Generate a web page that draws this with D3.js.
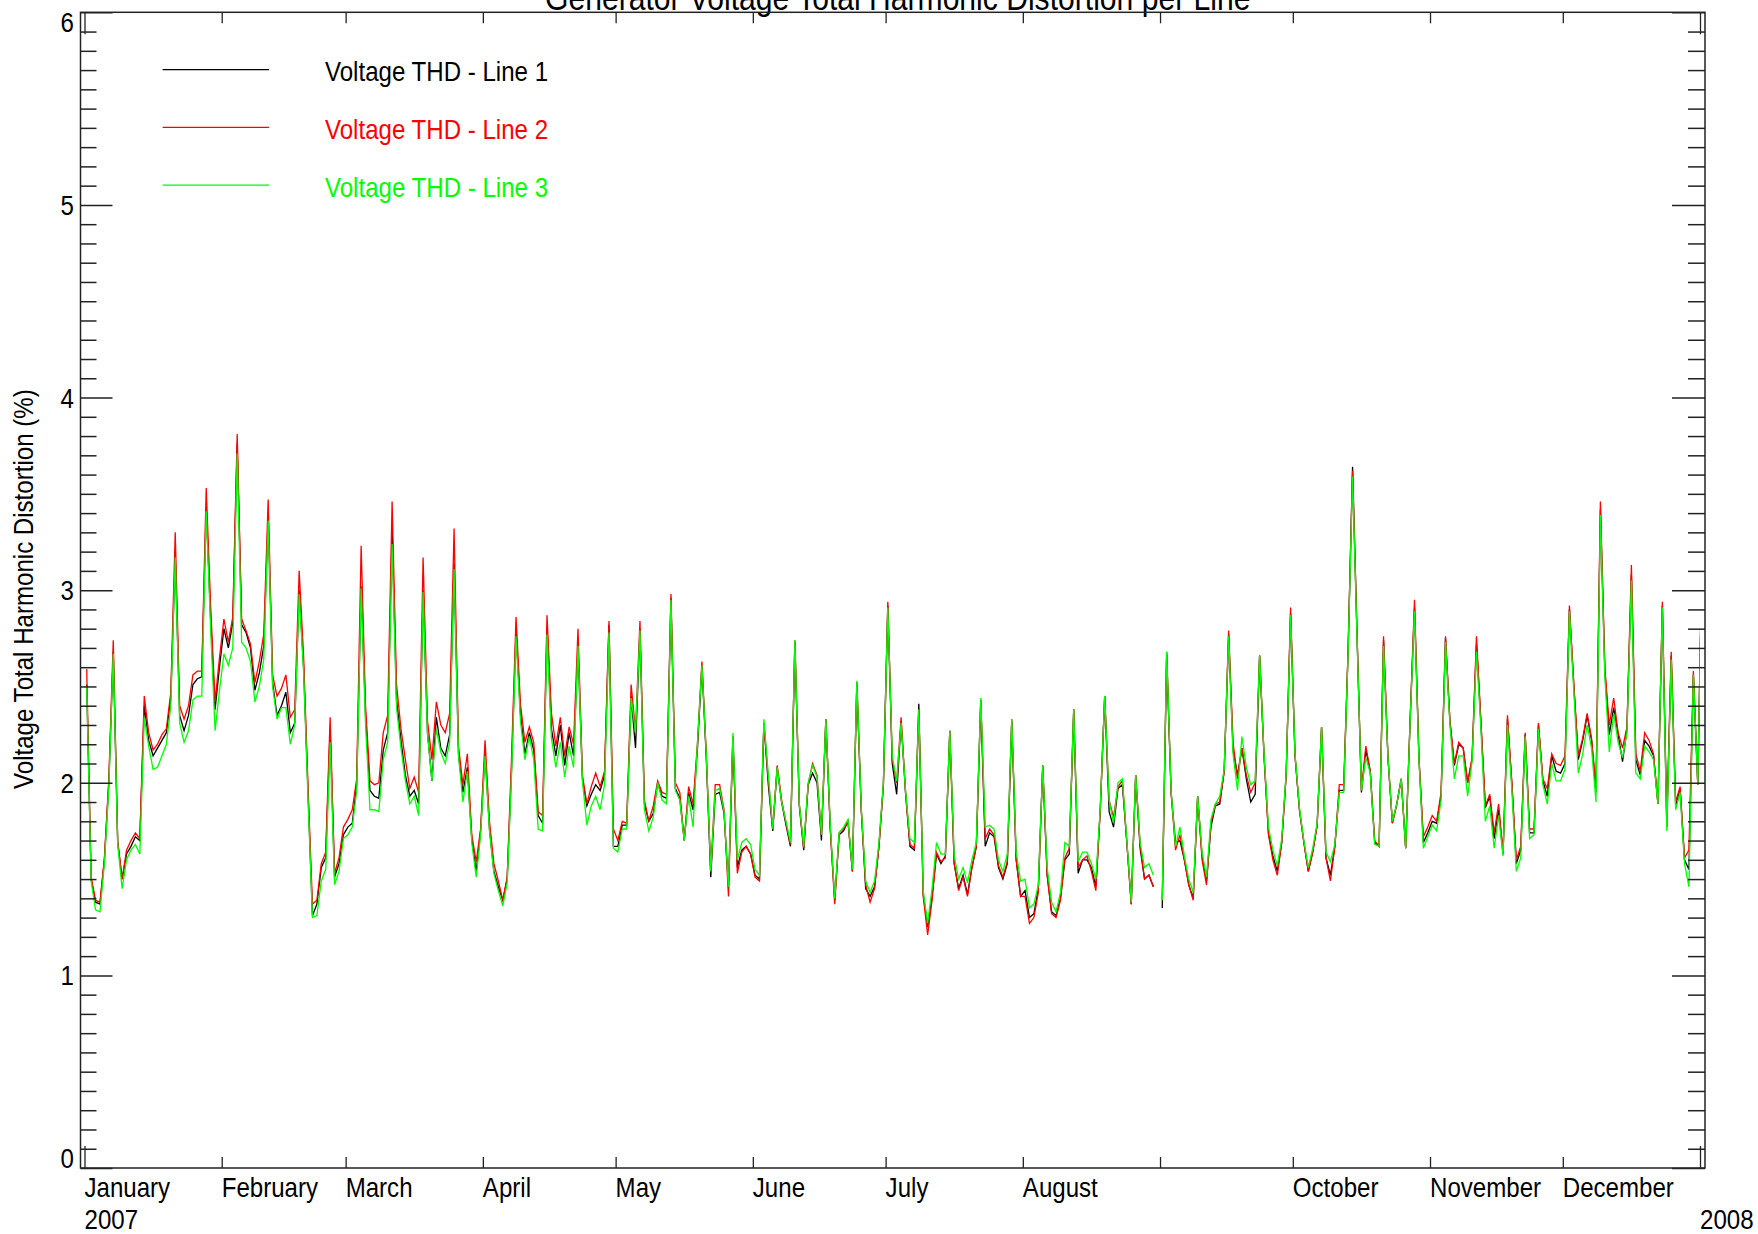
<!DOCTYPE html>
<html>
<head>
<meta charset="utf-8">
<script src="https://cdn.jsdelivr.net/npm/d3@7/dist/d3.min.js"></script>
<style>
  body { margin: 0; background: #fff; }
  svg { display: block; background: #fff; }
  text { font-family: "Liberation Sans", Arial, sans-serif; }
</style>
</head>
<body>
<svg></svg>
<script>
// daily voltage THD (%) from 1 Jan 2007, one value per day (null = no data)
var thd1 = [
2.51,1.50,1.38,1.37,1.60,2.00,2.68,1.69,1.50,1.63,
1.67,1.72,1.70,2.40,2.22,2.14,2.18,2.22,2.26,2.44,
3.18,2.35,2.27,2.35,2.51,2.54,2.55,3.43,2.85,2.38,
2.60,2.80,2.70,2.83,3.76,2.82,2.78,2.70,2.48,2.57,
2.71,3.38,2.52,2.35,2.40,2.47,2.26,2.31,3.00,2.60,
1.95,1.31,1.37,1.56,1.61,2.28,1.51,1.58,1.73,1.77,
1.79,1.99,3.02,2.35,1.96,1.93,1.92,2.17,2.26,3.31,
2.43,2.22,2.04,1.93,1.96,1.89,3.00,2.26,2.01,2.34,
2.18,2.14,2.25,3.14,2.15,1.95,2.08,1.71,1.54,1.75,
2.16,1.76,1.54,1.46,1.39,1.50,2.08,2.79,2.36,2.15,
2.26,2.17,1.83,1.79,2.81,2.28,2.14,2.30,2.09,2.26,
2.14,2.71,2.02,1.88,1.94,1.99,1.96,2.04,2.82,1.67,
1.67,1.78,1.78,2.45,2.18,2.80,1.89,1.80,1.84,2.00,
1.93,1.92,2.96,1.97,1.92,1.70,1.95,1.86,2.18,2.61,
2.12,1.51,1.94,1.95,1.84,1.46,2.24,1.56,1.65,1.67,
1.63,1.52,1.50,2.31,1.99,1.75,2.08,1.90,1.78,1.67,
2.73,1.88,1.65,1.99,2.05,2.00,1.70,2.33,1.76,1.39,
1.73,1.75,1.80,1.54,2.52,1.86,1.45,1.41,1.46,1.67,
1.99,2.92,2.10,1.94,2.32,1.95,1.67,1.65,2.41,1.42,
1.25,1.41,1.63,1.58,1.62,2.27,1.58,1.45,1.52,1.42,
1.56,1.67,2.43,1.67,1.74,1.72,1.56,1.50,1.58,2.32,
1.60,1.41,1.44,1.30,1.32,1.45,2.09,1.52,1.33,1.31,
1.40,1.60,1.63,2.38,1.53,1.60,1.60,1.56,1.46,1.86,
2.45,1.85,1.77,1.97,1.99,1.69,1.37,2.04,1.66,1.50,
1.52,1.46,null,1.35,2.67,1.95,1.69,1.70,1.60,1.47,
1.40,1.93,1.62,1.49,1.77,1.88,1.89,2.06,2.77,2.17,
2.04,2.18,2.02,1.90,1.94,2.66,2.14,1.74,1.62,1.54,
1.69,2.04,2.88,2.14,1.86,1.69,1.54,1.64,1.78,2.29,
1.61,1.52,1.67,1.96,1.96,2.69,3.64,2.78,1.95,2.17,
2.06,1.69,1.67,2.74,2.13,1.79,1.89,2.02,1.66,2.32,
2.91,2.13,1.69,1.74,1.80,1.79,1.93,2.75,2.32,2.09,
2.20,2.18,2.00,2.12,2.72,2.31,1.87,1.93,1.71,1.86,
1.63,2.33,1.99,1.58,1.65,2.25,1.74,1.74,2.30,2.01,
1.93,2.14,2.06,2.05,2.10,2.90,2.50,2.12,2.22,2.35,
2.22,1.95,3.42,2.58,2.25,2.39,2.25,2.11,2.28,3.08,
2.12,2.04,2.22,2.19,2.14,1.89,2.92,1.77,2.66,1.88,
1.97,1.60,1.55,2.56,1.99,3.25
];
var thd2 = [
2.59,1.51,1.39,1.38,1.61,2.02,2.74,1.70,1.50,1.65,
1.70,1.74,1.71,2.45,2.26,2.17,2.20,2.25,2.28,2.47,
3.30,2.40,2.33,2.40,2.56,2.58,2.58,3.53,2.92,2.42,
2.65,2.85,2.73,2.86,3.81,2.85,2.79,2.72,2.52,2.63,
2.77,3.47,2.56,2.45,2.49,2.56,2.34,2.38,3.10,2.66,
1.98,1.37,1.39,1.58,1.64,2.34,1.53,1.61,1.77,1.81,
1.86,2.02,3.23,2.40,2.01,1.99,2.00,2.26,2.35,3.46,
2.51,2.28,2.12,1.97,2.03,1.95,3.17,2.32,2.12,2.42,
2.30,2.26,2.36,3.32,2.19,1.99,2.15,1.73,1.59,1.76,
2.22,1.80,1.58,1.49,1.39,1.51,2.14,2.86,2.41,2.21,
2.29,2.21,1.85,1.83,2.87,2.36,2.19,2.34,2.14,2.29,
2.20,2.80,2.04,1.89,1.98,2.05,1.98,2.06,2.84,1.76,
1.70,1.80,1.79,2.51,2.27,2.84,1.91,1.80,1.88,2.01,
1.95,1.94,2.98,2.00,1.95,1.70,1.98,1.89,2.21,2.63,
2.14,1.54,1.99,1.99,1.86,1.41,2.24,1.53,1.64,1.67,
1.63,1.51,1.49,2.31,2.02,1.76,2.09,1.91,1.79,1.68,
2.74,1.89,1.66,1.99,2.10,2.04,1.73,2.33,1.76,1.37,
1.74,1.76,1.80,1.54,2.52,1.86,1.47,1.38,1.45,1.67,
1.99,2.94,2.12,2.00,2.34,1.95,1.68,1.66,2.38,1.41,
1.21,1.39,1.64,1.59,1.61,2.27,1.58,1.44,1.51,1.41,
1.56,1.67,2.43,1.71,1.76,1.73,1.57,1.51,1.59,2.33,
1.60,1.41,1.41,1.27,1.30,1.43,2.09,1.52,1.32,1.30,
1.39,1.61,1.66,2.38,1.56,1.60,1.62,1.54,1.44,1.86,
2.45,1.91,1.82,1.98,2.01,1.69,1.37,2.04,1.68,1.50,
1.52,1.46,null,1.39,2.68,1.95,1.65,1.73,1.60,1.47,
1.39,1.93,1.60,1.47,1.79,1.89,1.90,2.06,2.79,2.21,
2.02,2.18,2.04,1.95,2.00,2.66,2.14,1.73,1.60,1.52,
1.69,2.04,2.91,2.14,1.86,1.69,1.54,1.64,1.78,2.29,
1.61,1.49,1.67,1.99,1.99,2.69,3.62,2.78,1.96,2.19,
2.06,1.70,1.67,2.76,2.13,1.79,1.89,2.02,1.66,2.32,
2.95,2.13,1.72,1.77,1.83,1.80,1.95,2.76,2.32,2.10,
2.21,2.18,2.00,2.13,2.76,2.32,1.88,1.94,1.74,1.89,
1.64,2.35,2.00,1.60,1.67,2.26,1.76,1.76,2.31,2.02,
1.97,2.15,2.10,2.09,2.14,2.92,2.51,2.14,2.23,2.36,
2.23,1.98,3.46,2.60,2.30,2.44,2.26,2.18,2.29,3.13,
2.15,2.06,2.26,2.22,2.15,1.89,2.94,1.81,2.68,1.90,
1.98,1.61,1.65,2.58,1.99,3.25
];
var thd3 = [
2.50,1.49,1.34,1.33,1.58,1.98,2.67,1.68,1.45,1.60,
1.65,1.68,1.63,2.34,2.19,2.07,2.08,2.14,2.20,2.40,
3.17,2.31,2.21,2.27,2.43,2.45,2.45,3.41,2.80,2.27,
2.48,2.67,2.61,2.70,3.71,2.73,2.70,2.63,2.42,2.50,
2.64,3.36,2.50,2.33,2.39,2.39,2.20,2.30,2.98,2.58,
1.92,1.30,1.31,1.49,1.55,2.21,1.47,1.54,1.71,1.73,
1.77,1.96,3.01,2.30,1.86,1.86,1.85,2.12,2.21,3.24,
2.39,2.18,2.01,1.89,1.93,1.83,2.99,2.25,2.01,2.28,
2.16,2.10,2.21,3.11,2.14,1.90,2.06,1.69,1.51,1.73,
2.14,1.75,1.53,1.44,1.36,1.48,2.05,2.76,2.32,2.12,
2.24,2.12,1.76,1.75,2.77,2.23,2.08,2.21,2.03,2.19,
2.08,2.71,2.01,1.78,1.88,1.93,1.86,1.99,2.78,1.66,
1.64,1.76,1.76,2.44,2.26,2.79,1.86,1.75,1.82,2.00,
1.91,1.89,2.95,1.96,1.91,1.70,1.93,1.77,2.21,2.61,
2.14,1.54,1.96,1.97,1.85,1.46,2.26,1.60,1.69,1.71,
1.68,1.55,1.52,2.33,2.04,1.76,2.08,1.90,1.80,1.69,
2.74,1.89,1.67,2.00,2.09,2.03,1.73,2.33,1.78,1.40,
1.74,1.77,1.81,1.55,2.53,1.87,1.49,1.43,1.49,1.69,
2.00,2.91,2.14,2.01,2.31,1.96,1.71,1.69,2.38,1.44,
1.27,1.45,1.69,1.63,1.63,2.27,1.62,1.50,1.56,1.48,
1.60,1.69,2.44,1.77,1.78,1.76,1.60,1.54,1.63,2.33,
1.64,1.49,1.50,1.35,1.37,1.47,2.09,1.56,1.38,1.33,
1.43,1.69,1.67,2.38,1.59,1.64,1.64,1.58,1.50,1.87,
2.45,1.91,1.79,2.00,2.02,1.70,1.38,2.04,1.69,1.56,
1.58,1.52,null,1.39,2.68,1.96,1.67,1.77,1.62,1.50,
1.43,1.93,1.64,1.51,1.81,1.89,1.93,2.07,2.76,2.15,
1.96,2.24,2.08,1.99,2.01,2.66,2.15,1.77,1.65,1.57,
1.71,2.05,2.87,2.15,1.87,1.70,1.56,1.66,1.79,2.29,
1.64,1.59,1.68,1.95,1.95,2.68,3.59,2.76,1.96,2.13,
2.05,1.68,1.67,2.71,2.13,1.80,1.89,2.02,1.66,2.31,
2.89,2.12,1.66,1.72,1.78,1.75,1.91,2.73,2.30,2.02,
2.14,2.14,1.93,2.11,2.68,2.28,1.80,1.88,1.66,1.83,
1.62,2.30,1.96,1.54,1.61,2.24,1.71,1.73,2.28,1.99,
1.89,2.10,2.01,2.01,2.07,2.89,2.47,2.05,2.15,2.30,
2.18,1.90,3.39,2.55,2.16,2.36,2.21,2.13,2.26,3.05,
2.05,2.02,2.19,2.16,2.12,1.89,2.91,1.75,2.64,1.86,
1.95,1.58,1.46,2.56,1.99,3.25
];

var seriesNames = ["Voltage THD - Line 1", "Voltage THD - Line 2", "Voltage THD - Line 3"];
var seriesColours = ["#000000", "#ff0000", "#00ff00"];

// month ticks (first of each month) and their labels, September has none in the original
var monthTicks = ["2007-02-01","2007-03-01","2007-04-01","2007-05-01","2007-06-01","2007-07-01",
                  "2007-08-01","2007-09-01","2007-10-01","2007-11-01","2007-12-01"];
var monthLabels = ["January","February","March","April","May","June","July","August","",
                   "October","November","December"];
var yearTicks = ["2007-01-01","2008-01-01"];
var yearLabels = ["2007","2008"];
var yTicks = [0,1,2,3,4,5,6];

var W = 1758, H = 1234;
var box = {left: 80.5, right: 1705, top: 12.3, bottom: 1168};
var FS = 28.5, SQ = 0.845;   // narrow font: size and horizontal squeeze

var svg = d3.select("svg").attr("width", W).attr("height", H);

var x = d3.scaleUtc()
    .domain([new Date("2007-01-01T00:00Z"), new Date("2008-01-01T00:00Z")])
    .range([84.5, 1700]);
var y = d3.scaleLinear().domain([0, 6]).range([box.bottom, box.top]);

function dayDate(i){ return new Date(Date.UTC(2007, 0, 1 + i, 12)); }

//testi stretti
function label(px, py, txt, anchor, colour, size, rot){
    var g = svg.append("g")
        .attr("transform", "translate(" + px + "," + py + ")" + (rot ? " rotate(" + rot + ")" : "") + " scale(" + SQ + ",1)");
    g.append("text")
        .attr("text-anchor", anchor)
        .attr("font-size", size || FS)
        .attr("fill", colour || "#000")
        .text(txt);
}

// title (cut off at the top in the original)
label((box.left + box.right) / 2 + 5, 10, "Generator Voltage Total Harmonic Distortion per Line", "middle", "#000", FS * 1.25);

// lines
svg.append("clipPath").attr("id", "plotclip")
  .append("rect").attr("x", box.left).attr("y", box.top)
  .attr("width", x.range()[1] - box.left).attr("height", box.bottom - box.top);

var line = d3.line()
    .defined(function(d){ return d != null; })
    .x(function(d, i){ return x(dayDate(i)); })
    .y(function(d){ return y(d); });

[thd1, thd2, thd3].forEach(function(s, k){
    svg.append("path")
      .datum(s)
      .attr("clip-path", "url(#plotclip)")
      .attr("fill", "none")
      .attr("stroke", seriesColours[k])
      .attr("stroke-width", 1.3)
      .attr("stroke-linejoin", "miter")
      .attr("d", line);
});

// frame
svg.append("rect")
  .attr("x", box.left).attr("y", box.top)
  .attr("width", box.right - box.left).attr("height", box.bottom - box.top)
  .attr("fill", "none").attr("stroke", "#222").attr("stroke-width", 1.5);

// y ticks, left and right, major + minor
var minor = d3.range(0, 60).map(function(v){ return v / 10; }).filter(function(v){ return Math.round(v * 10) % 10 != 0; });
function yAxis(side, values, len){
    var ax = (side == "left" ? d3.axisLeft(y) : d3.axisRight(y))
        .tickValues(values).tickSize(-len).tickFormat("");
    var g = svg.append("g")
        .attr("transform", "translate(" + (side == "left" ? box.left : box.right) + ",0)")
        .call(ax);
    g.select(".domain").remove();
    g.selectAll("line").attr("stroke", "#222").attr("stroke-width", 1.5);
}
yAxis("left", yTicks, 32);
yAxis("left", minor, 16);
yAxis("right", yTicks, 33);
yAxis("right", minor, 17);

// x ticks, bottom and top
function xAxis(where, values, len){
    var ax = (where == "bottom" ? d3.axisBottom(x) : d3.axisTop(x))
        .tickValues(values.map(function(s){ return new Date(s + "T00:00Z"); }))
        .tickSize(-len).tickFormat("");
    var g = svg.append("g")
        .attr("transform", "translate(0," + (where == "bottom" ? box.bottom : box.top) + ")")
        .call(ax);
    g.select(".domain").remove();
    g.selectAll("line").attr("stroke", "#222").attr("stroke-width", 1.3);
}
xAxis("bottom", monthTicks, 11);
xAxis("top", monthTicks, 11);
xAxis("bottom", yearTicks, 22);
xAxis("top", yearTicks, 22);

// y tick labels
yTicks.forEach(function(v){
    var py = Math.min(Math.max(y(v) + 10, 32), box.bottom);
    label(74, py, String(v), "end");
});

// x labels
var labelDates = [yearTicks[0]].concat(monthTicks);
labelDates.forEach(function(s, i){
    if (monthLabels[i]) label(x(new Date(s + "T00:00Z")), 1197, monthLabels[i], "start");
});
yearTicks.forEach(function(s, i){
    label(x(new Date(s + "T00:00Z")), 1229, yearLabels[i], "start");
});

// y axis title
label(33, (box.top + box.bottom) / 2 - 1, "Voltage Total Harmonic Distortion (%)", "middle", "#000", FS, -90);

// legend
seriesNames.forEach(function(n, k){
    var ly = 69.7 + k * 57.7;
    svg.append("line")
      .attr("x1", 162.6).attr("x2", 269).attr("y1", ly).attr("y2", ly)
      .attr("stroke", seriesColours[k]).attr("stroke-width", 1.3);
    label(325, ly + 11.5, n, "start", seriesColours[k]);
});
</script>
</body>
</html>
